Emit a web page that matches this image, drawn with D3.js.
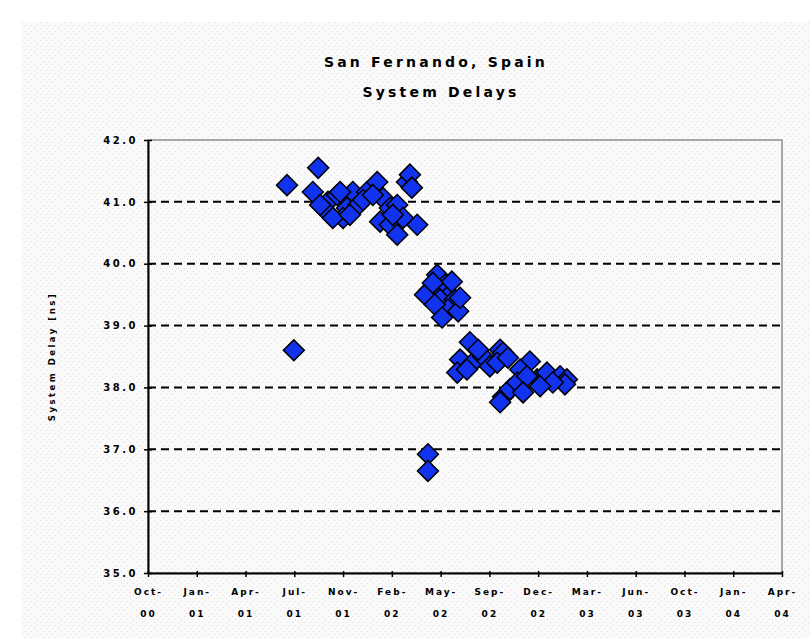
<!DOCTYPE html>
<html>
<head>
<meta charset="utf-8">
<script src="https://cdn.jsdelivr.net/npm/d3@7"></script>
<style>
  body { margin: 0; background: #fff; }
  svg { display: block; }
  text { font-family: "DejaVu Sans", sans-serif; font-weight: bold; fill: #000; }
</style>
</head>
<body>
<script>
// observation dates and system delays [ns]
const dates = [
  "2001-07-13", "2001-09-15", "2001-09-04", "2001-10-05", "2001-10-24", "2001-11-13",
  "2001-11-25", "2001-12-06", "2001-11-05", "2001-10-03", "2001-12-24", "2002-01-14",
  "2002-01-26", "2002-02-09", "2002-02-24", "2002-03-16", "2002-03-22", "2002-01-20",
  "2002-02-09", "2002-02-24", "2002-04-06", "2002-03-08", "2001-09-19", "2001-10-15",
  "2001-11-19", "2001-10-30", "2001-12-16", "2002-01-05", "2002-03-26", "2002-02-15",
  "2002-05-17", "2002-06-02", "2002-05-02", "2002-06-12", "2002-05-23", "2002-06-22",
  "2002-04-22", "2002-06-08", "2002-06-29", "2002-05-12", "2002-05-27", "2002-07-03",
  "2002-06-16", "2002-05-08",
  "2002-07-23", "2002-09-23", "2002-09-29", "2002-07-03", "2002-06-27", "2002-07-29",
  "2002-08-19", "2002-09-02", "2002-07-17", "2002-09-17", "2002-08-09", "2002-10-09",
  "2002-11-23", "2002-11-03", "2002-09-29", "2002-09-23", "2002-10-13", "2002-10-28",
  "2002-12-08", "2002-12-28", "2003-01-24", "2003-02-07", "2003-02-03", "2002-11-17",
  "2003-01-09", "2002-12-14", "2002-11-09",
  "2001-07-27", "2002-04-28", "2002-04-28"
];
const delays = [
  41.27, 41.55, 41.16, 41.00, 41.11, 40.90,
  41.16, 40.95, 40.74, 40.84, 41.16, 41.32,
  41.06, 40.90, 40.95, 41.32, 41.44, 40.68,
  40.63, 40.47, 40.63, 40.74, 40.95, 40.74,
  40.79, 41.16, 41.03, 41.11, 41.23, 40.79,
  39.82, 39.66, 39.58, 39.50, 39.42, 39.42,
  39.50, 39.26, 39.23, 39.34, 39.13, 39.45,
  39.71, 39.69,
  38.73, 38.61, 38.56, 38.45, 38.24, 38.40,
  38.50, 38.34, 38.29, 38.40, 38.61, 38.48,
  38.42, 38.29, 37.85, 37.76, 37.97, 38.08,
  38.13, 38.24, 38.18, 38.13, 38.05, 38.18,
  38.08, 38.02, 37.92,
  38.60, 36.92, 36.65
];

const yTicks = [35, 36, 37, 38, 39, 40, 41, 42];
const xTicks = [
  "2000-10-01", "2001-01-09", "2001-04-19", "2001-07-28", "2001-11-05", "2002-02-13",
  "2002-05-24", "2002-09-01", "2002-12-10", "2003-03-20", "2003-06-28", "2003-10-06",
  "2004-01-14", "2004-04-23"
];

const title1 = "San Fernando, Spain";
const title2 = "System Delays";
const yLabel = "System Delay [ns]";

const width = 810, height = 638;
const marginLeft = 148, marginRight = 28, marginTop = 140, marginBottom = 65;

const parse = d3.utcParse("%Y-%m-%d");
const points = dates.map((d, i) => ({ date: parse(d), delay: delays[i] }));
const tickDates = xTicks.map(parse);

const x = d3.scaleUtc()
    .domain([tickDates[0], tickDates[tickDates.length - 1]])
    .range([marginLeft, width - marginRight]);

const y = d3.scaleLinear()
    .domain([35, 42])
    .range([height - marginBottom, marginTop]);

const svg = d3.select("body").append("svg")
    .attr("width", width)
    .attr("height", height)
    .attr("viewBox", [0, 0, width, height]);

// dotted paper texture
const defs = svg.append("defs");
const pat = defs.append("pattern")
    .attr("id", "dots")
    .attr("width", 6).attr("height", 6)
    .attr("patternUnits", "userSpaceOnUse");
pat.append("rect").attr("width", 6).attr("height", 6).attr("fill", "#fafafa");
pat.append("rect").attr("x", 1).attr("y", 1).attr("width", 1).attr("height", 1).attr("fill", "#dedede");
pat.append("rect").attr("x", 4).attr("y", 4).attr("width", 1).attr("height", 1).attr("fill", "#dedede");

svg.append("rect")
    .attr("x", 22).attr("y", 22)
    .attr("width", width - 22).attr("height", height - 22)
    .attr("fill", "url(#dots)");

// plot frame (grey top/right)
svg.append("rect")
    .attr("x", marginLeft).attr("y", marginTop)
    .attr("width", width - marginLeft - marginRight)
    .attr("height", height - marginTop - marginBottom)
    .attr("fill", "none")
    .attr("stroke", "#8c8c8c")
    .attr("stroke-width", 1.5);

// dashed gridlines
svg.append("g")
    .selectAll("line")
    .data(yTicks.filter(t => t > 35 && t < 42))
    .join("line")
    .attr("x1", marginLeft)
    .attr("x2", width - marginRight)
    .attr("y1", d => y(d))
    .attr("y2", d => y(d))
    .attr("stroke", "#000")
    .attr("stroke-width", 2)
    .attr("stroke-dasharray", "8,5");

// y axis
const yAxis = d3.axisLeft(y)
    .tickValues(yTicks)
    .tickFormat(d3.format(".1f"))
    .tickSize(4)
    .tickSizeOuter(0);

svg.append("g")
    .attr("transform", `translate(${marginLeft},0)`)
    .call(yAxis)
    .call(g => g.select(".domain").attr("stroke-width", 2))
    .call(g => g.selectAll(".tick line").attr("x2", 4).attr("x1", -4).attr("stroke-width", 1.5))
    .call(g => g.selectAll(".tick text")
        .attr("x", -10)
        .style("font-size", "10px")
        .style("font-weight", "900")
        .style("letter-spacing", "2.5px")
        .style("font-family", "'DejaVu Sans', sans-serif"));

// x axis
const fmtMon = d3.utcFormat("%b-");
const fmtYr = d3.utcFormat("%y");
const xAxis = d3.axisBottom(x)
    .tickValues(tickDates)
    .tickFormat("")
    .tickSize(4)
    .tickSizeOuter(0);

svg.append("g")
    .attr("transform", `translate(0,${height - marginBottom})`)
    .call(xAxis)
    .call(g => g.select(".domain").attr("stroke-width", 2))
    .call(g => g.selectAll(".tick line").attr("y1", -2).attr("stroke-width", 1.5))
    .call(g => g.selectAll(".tick").each(function(d) {
        const t = d3.select(this).select("text")
            .attr("y", 0)
            .attr("dy", null)
            .style("font-size", "9px")
            .style("letter-spacing", "2px")
            .style("font-family", "'DejaVu Sans', sans-serif");
        t.append("tspan").attr("x", 0).attr("y", 22).text(fmtMon(d));
        t.append("tspan").attr("x", 0).attr("y", 44).text(fmtYr(d));
    }));

// y label
svg.append("text")
    .attr("transform", `translate(55,${(marginTop + height - marginBottom) / 2}) rotate(-90)`)
    .attr("text-anchor", "middle")
    .style("font-size", "8.5px")
    .style("letter-spacing", "2.5px")
    .text(yLabel);

// titles
svg.append("text")
    .attr("x", 436).attr("y", 67)
    .attr("text-anchor", "middle")
    .style("font-size", "14px")
    .style("letter-spacing", "3.2px")
    .text(title1);

svg.append("text")
    .attr("x", 441).attr("y", 97)
    .attr("text-anchor", "middle")
    .style("font-size", "14px")
    .style("letter-spacing", "3.2px")
    .text(title2);

// diamond markers
const diamond = d3.symbol().type(d3.symbolSquare).size(220);
svg.append("g")
    .selectAll("path")
    .data(points)
    .join("path")
    .attr("d", diamond)
    .attr("transform", d => `translate(${x(d.date)},${y(d.delay)}) rotate(45)`)
    .attr("fill", "#1133ee")
    .attr("stroke", "#000")
    .attr("stroke-width", 1.5);
</script>
</body>
</html>
